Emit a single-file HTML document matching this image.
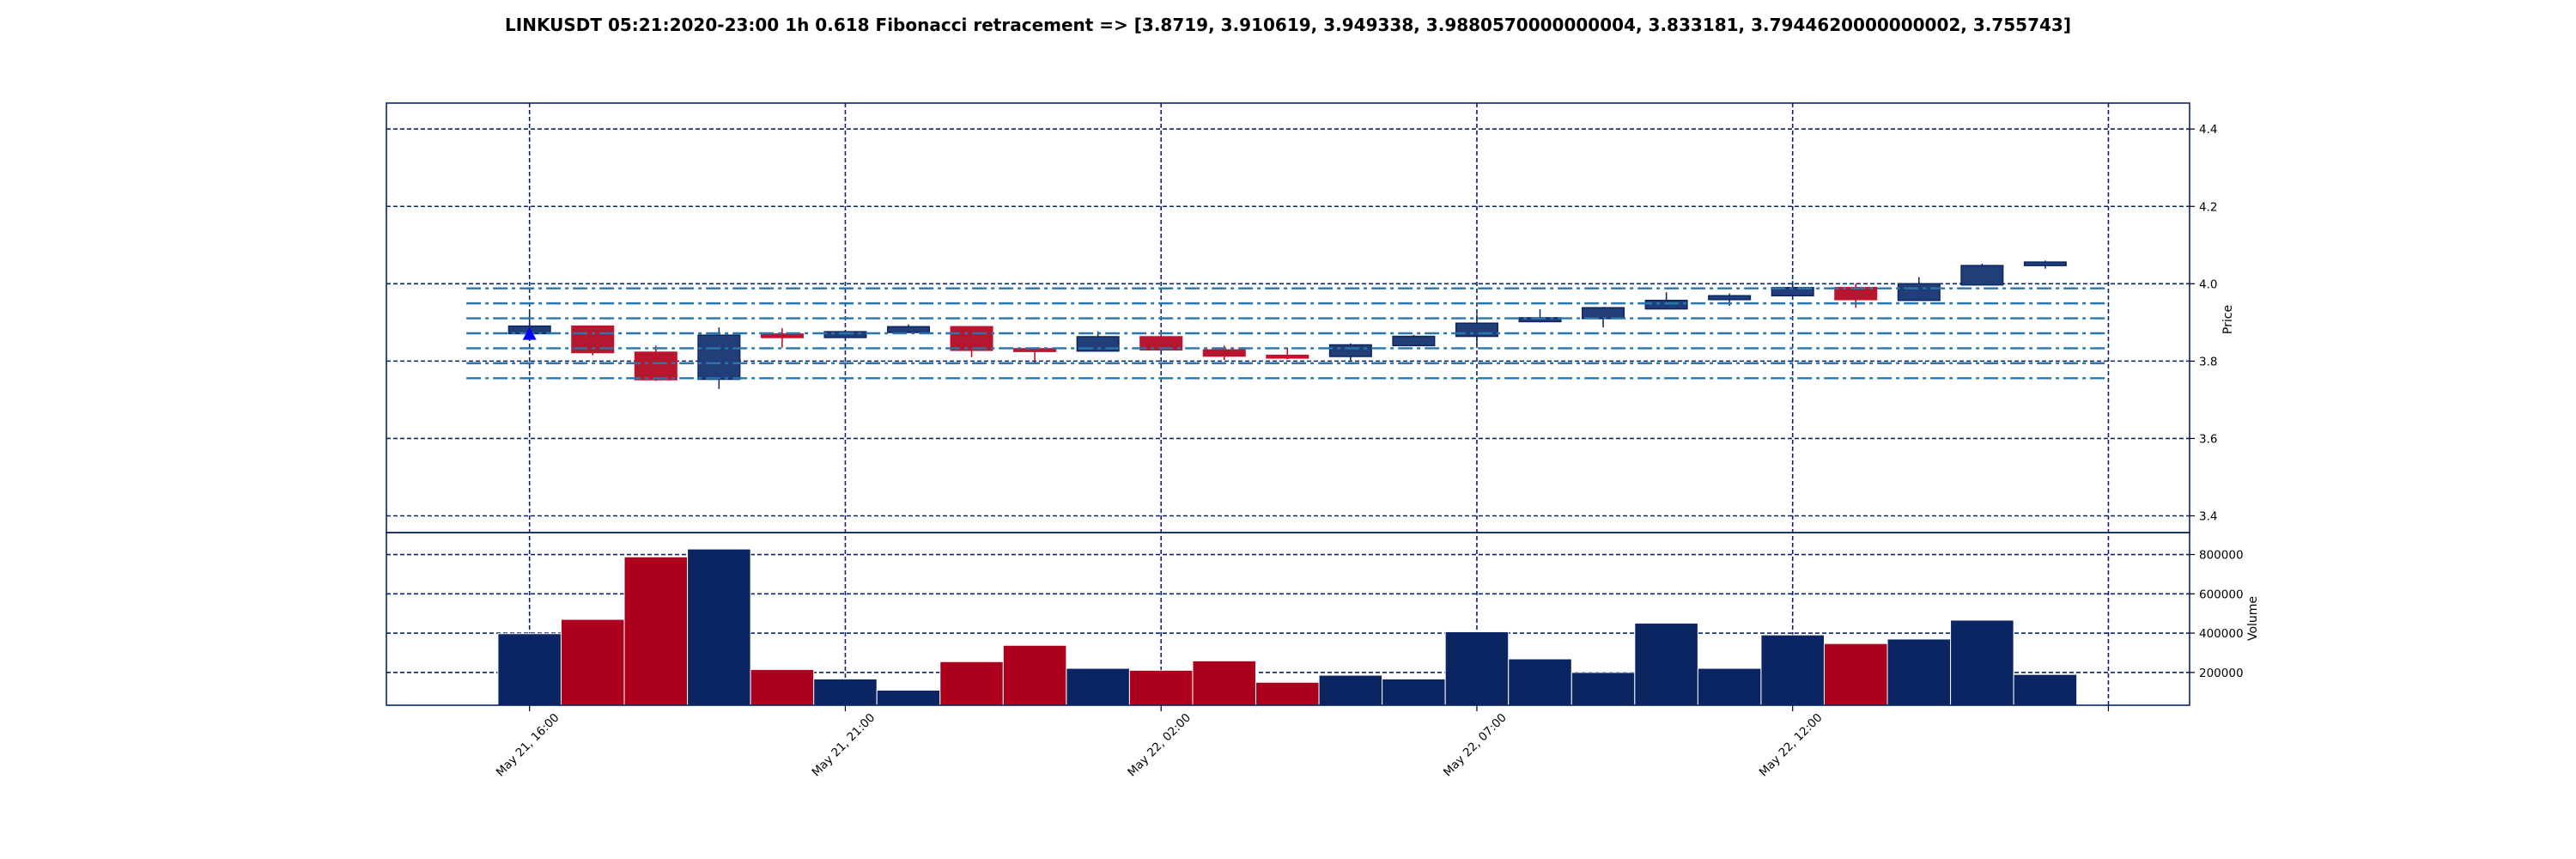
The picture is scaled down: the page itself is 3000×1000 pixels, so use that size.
<!DOCTYPE html>
<html><head><meta charset="utf-8"><style>
html,body{margin:0;padding:0;background:#fff;}
svg{display:block;font-family:"DejaVu Sans","Liberation Sans",sans-serif;}
</style></head><body>
<svg id="chart" width="3000" height="1000" viewBox="0 0 3000 1000" xmlns="http://www.w3.org/2000/svg">
<rect width="3000" height="1000" fill="#fff"/>
<text x="1500" y="36" text-anchor="middle" font-size="20" font-weight="bold" fill="#000">LINKUSDT 05:21:2020-23:00 1h 0.618 Fibonacci retracement =&gt; [3.8719, 3.910619, 3.949338, 3.9880570000000004, 3.833181, 3.7944620000000002, 3.755743]</text>
<g id="grid"></g>
<g id="vol"></g>
<g id="candles"></g>
<g id="fib"></g>
<g id="marks"></g>
<g id="axes"></g>
</svg>
<script>
const opens  = [3.871,3.8905,3.823,3.753,3.870,3.861,3.874,3.889,3.832,3.826,3.863,3.829,3.815,3.812,3.840,3.864,3.902,3.910,3.935,3.959,3.969,3.990,3.957,3.997,4.047];
const closes = [3.8905,3.822,3.752,3.867,3.861,3.876,3.889,3.828,3.825,3.863,3.829,3.813,3.808,3.842,3.864,3.898,3.912,3.938,3.957,3.969,3.990,3.959,4.000,4.047,4.056];
const highs  = [3.924,3.8905,3.840,3.887,3.885,3.878,3.895,3.889,3.832,3.877,3.870,3.840,3.835,3.846,3.868,3.922,3.934,3.940,3.978,3.975,4.007,4.000,4.017,4.052,4.060];
const lows   = [3.868,3.815,3.749,3.728,3.835,3.860,3.874,3.810,3.792,3.826,3.829,3.803,3.805,3.802,3.840,3.840,3.900,3.887,3.934,3.943,3.969,3.938,3.957,3.997,4.039];
const volumes = [397000,470000,788000,828000,215000,167000,110000,255000,338000,221000,211000,259000,150000,186000,167000,407000,269000,200000,451000,221000,391000,347000,370000,466000,190000];
const fibLevels = [3.8719,3.910619,3.949338,3.988057,3.833181,3.794462,3.755743];
const priceTicks = [3.4,3.6,3.8,4.0,4.2,4.4];
const priceTickLabels = ["3.4","3.6","3.8","4.0","4.2","4.4"];
const volTicks = [200000,400000,600000,800000];
const volTickLabels = ["200000","400000","600000","800000"];
const xTickIdx = [0,5,10,15,20,25];
const xTickLabels = ["May 21, 16:00","May 21, 21:00","May 22, 02:00","May 22, 07:00","May 22, 12:00",""];
const signalIdx = [0];
const signalPrice = [3.866];

const L=450,R=2550,PT=120,PB=620,VB=821;
const NS="http://www.w3.org/2000/svg";
const x0=616.7, step=73.55;
const X=i=>x0+i*step;
const PY=p=>150.2+(4.4-p)*450.3;
const VY=v=>828.6-v/200000*45.77;
const NAVY="#0a2563";
function el(tag,attrs,parent){const e=document.createElementNS(NS,tag);for(const k in attrs)e.setAttribute(k,attrs[k]);parent.appendChild(e);return e;}
const grid=document.getElementById('grid'),vol=document.getElementById('vol'),cg=document.getElementById('candles'),fg=document.getElementById('fib'),mg=document.getElementById('marks'),ax=document.getElementById('axes');
const dash={stroke:NAVY,'stroke-width':1.6,'stroke-dasharray':'5,3',fill:'none'};

priceTicks.forEach((p,i)=>{
  const l=el('line',Object.assign({x1:L,x2:R,y1:PY(p),y2:PY(p)},dash),grid);
  
  
  const t=el('line',{x1:R,x2:R+6,y1:PY(p),y2:PY(p),stroke:'#000','stroke-width':1.2},ax);
  
  
  const tx=el('text',{x:R+11,y:PY(p)+5,'font-size':13.5,fill:'#000'},ax);
  tx.textContent=priceTickLabels[i];
  
  
});
volTicks.forEach((v,i)=>{
  const l=el('line',Object.assign({x1:L,x2:R,y1:VY(v),y2:VY(v)},dash),grid);
  
  
  const t=el('line',{x1:R,x2:R+6,y1:VY(v),y2:VY(v),stroke:'#000','stroke-width':1.2},ax);
  
  
  const tx=el('text',{x:R+11,y:VY(v)+5,'font-size':13.5,fill:'#000'},ax);
  tx.textContent=volTickLabels[i];
  
  
});
xTickIdx.forEach((idx,i)=>{
  const x=X(idx);
  const l=el('line',Object.assign({x1:x,x2:x,y1:PT,y2:VB},dash),grid);
  
  
  const t=el('line',{x1:x,x2:x,y1:VB,y2:VB+7,stroke:'#000','stroke-width':1.2},ax);
  
  
  if(xTickLabels[i]){
    const tx=el('text',{x:0,y:0,'font-size':13.5,fill:'#000','text-anchor':'end',transform:`translate(${x+35},${VB+15}) rotate(-45)`},ax);
    tx.textContent=xTickLabels[i];
    
    
  }
});
volumes.forEach((v,i)=>{
  const up=closes[i]>=opens[i];
  const r=el('rect',{x:X(i)-step/2,width:step,y:VY(v),height:VB-VY(v),fill:up?'#0a2561':'#ad001c',stroke:'#fff','stroke-width':1},vol);
  
  
});
opens.forEach((o,i)=>{
  const c=closes[i],up=c>=o,x=X(i),w=step*0.66;
  const col=up?'#0a2563':'#c0001c';
  const wk=el('line',{x1:x,x2:x,y1:PY(highs[i]),y2:PY(lows[i]),stroke:col,'stroke-width':1.5},cg);
  
  
  const top=PY(Math.max(o,c)),bot=PY(Math.min(o,c));
  const b=el('rect',{x:x-w/2,width:w,y:top,height:Math.max(bot-top,2),fill:up?'#213e78':'#b5172f',stroke:up?'#0a2563':'#c8102e','stroke-width':1.5},cg);
  
  
});
fibLevels.forEach(f=>{
  const l=el('line',{x1:X(-1),x2:X(25),y1:PY(f),y2:PY(f),stroke:'#2a76ab','stroke-width':2.4,'stroke-dasharray':'17,5,4,5'},fg);
  
  
});
signalIdx.forEach((idx,i)=>{
  const x=X(idx),y=PY(signalPrice[i]);
  const m=el('polygon',{points:`${x},${y-10} ${x-8},${y+5} ${x+8},${y+5}`,fill:'#0000ff'},mg);
  
  
});
const f1=el('rect',{x:L,y:PT,width:R-L,height:PB-PT,fill:'none',stroke:NAVY,'stroke-width':1.6},ax);


const f2=el('rect',{x:L,y:PB,width:R-L,height:VB-PB,fill:'none',stroke:NAVY,'stroke-width':1.6},ax);


const pl=el('text',{x:0,y:0,'font-size':14,fill:'#000','text-anchor':'middle',transform:'translate(2599,372) rotate(-90)'},ax);
pl.textContent='Price';


const vl=el('text',{x:0,y:0,'font-size':14,fill:'#000','text-anchor':'middle',transform:'translate(2628,720) rotate(-90)'},ax);
vl.textContent='Volume';


</script>
</body></html>
